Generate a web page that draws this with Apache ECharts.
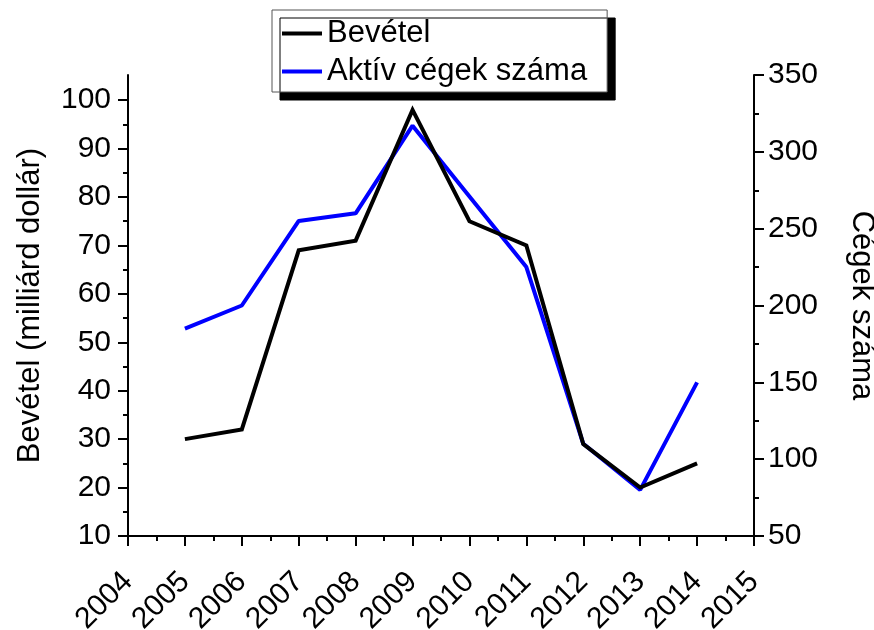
<!DOCTYPE html>
<html>
<head>
<meta charset="utf-8">
<script src="https://cdn.jsdelivr.net/npm/echarts@6/dist/echarts.min.js"></script>
<style>
html,body{margin:0;padding:0;background:#fff;}
#c{width:874px;height:630px;}
</style>
</head>
<body>
<div id="c"></div>
<script>
var years = [2005, 2006, 2007, 2008, 2009, 2010, 2011, 2012, 2013, 2014];
var revenue = [30, 32, 69, 71, 98, 75, 70, 29, 20, 25];
var companies = [185, 200, 255, 260, 317, 271, 225, 110, 80, 150];
var leftTicks = [10, 20, 30, 40, 50, 60, 70, 80, 90, 100];
var leftMinorTicks = [15, 25, 35, 45, 55, 65, 75, 85, 95];
var seriesNames = ['Bevétel', 'Aktív cégek száma'];

var FONT = 'Liberation Sans';
var chart = echarts.init(document.getElementById('c'), null, {renderer: 'canvas'});

function pairs(xs, ys) { return xs.map(function (x, i) { return [x, ys[i]]; }); }

var axisLineStyle = {color: '#000', width: 2};
var option = {
  animation: false,
  backgroundColor: '#fff',
  grid: {left: 128, right: 120, top: 75, bottom: 94, containLabel: false, outerBoundsMode: 'none'},
  legend: {
    orient: 'vertical',
    left: 272, top: 10,
    padding: [8, 20, 5, 10],
    itemGap: 7,
    itemWidth: 40, itemHeight: 4,
    icon: 'rect',
    backgroundColor: '#fff',
    borderColor: '#555', borderWidth: 1,
    shadowColor: '#000', shadowBlur: 0, shadowOffsetX: 8, shadowOffsetY: 8,
    textStyle: {fontFamily: FONT, fontSize: 31, color: '#000', lineHeight: 30, padding: [0, 0, 0, 0]},
    data: seriesNames
  },
  xAxis: {
    type: 'value', min: 2004, max: 2015, interval: 1,
    axisLine: {show: true, onZero: false, lineStyle: axisLineStyle},
    axisTick: {show: true, inside: false, length: 10, lineStyle: {width: 2, color: '#000'}},
    minorTick: {show: true, splitNumber: 2, length: 5, lineStyle: {width: 2, color: '#000'}},
    splitLine: {show: false},
    axisLabel: {rotate: 45, margin: 41, fontFamily: FONT, fontSize: 30, color: '#000',
      formatter: function (v) { return String(v); }}
  },
  yAxis: [
    {
      type: 'value', position: 'left', min: 10, max: 105.2,
      name: 'Bevétel (milliárd dollár)', nameLocation: 'middle', nameGap: 82,
      nameTextStyle: {fontFamily: FONT, fontSize: 31, color: '#000'},
      axisLine: {show: true, onZero: false, lineStyle: axisLineStyle},
      axisTick: {show: true, length: 10, lineStyle: {width: 2, color: '#000'}, customValues: leftTicks},
      axisLabel: {fontFamily: FONT, fontSize: 30, color: '#000', margin: 17, customValues: leftTicks},
      splitLine: {show: false}
    },
    {
      type: 'value', position: 'right', min: 50, max: 350, interval: 50,
      name: 'Cégek száma', nameLocation: 'middle', nameGap: 92, nameRotate: -90,
      nameTextStyle: {fontFamily: FONT, fontSize: 31, color: '#000'},
      axisLine: {show: true, onZero: false, lineStyle: axisLineStyle},
      axisTick: {show: true, length: 10, lineStyle: {width: 2, color: '#000'}},
      minorTick: {show: true, splitNumber: 2, length: 5, lineStyle: {width: 2, color: '#000'}},
      axisLabel: {fontFamily: FONT, fontSize: 30, color: '#000', margin: 14},
      splitLine: {show: false}
    },
    {
      type: 'value', position: 'left', min: 10, max: 105.2,
      axisLine: {show: false},
      axisTick: {show: true, length: 5, lineStyle: {width: 2, color: '#000'}, customValues: leftMinorTicks},
      axisLabel: {show: false},
      splitLine: {show: false}
    }
  ],
  series: [
    {
      name: seriesNames[0], type: 'line', yAxisIndex: 0, symbol: 'none',
      data: pairs(years, revenue),
      lineStyle: {color: '#000', width: 4, join: 'miter'},
      itemStyle: {color: '#000'}, z: 3
    },
    {
      name: seriesNames[1], type: 'line', yAxisIndex: 1, symbol: 'none',
      data: pairs(years, companies),
      lineStyle: {color: '#0000ff', width: 4},
      itemStyle: {color: '#0000ff'}, z: 2
    }
  ]
};
chart.setOption(option);
</script>
</body>
</html>
